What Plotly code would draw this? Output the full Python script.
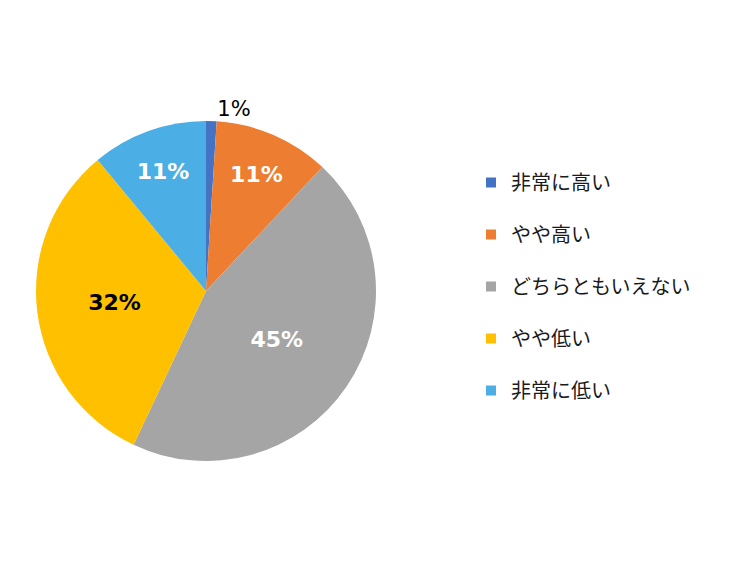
import plotly.graph_objects as go

labels = ["非常に高い", "やや高い", "どちらともいえない", "やや低い", "非常に低い"]
values = [1, 11, 45, 32, 11]
colors = ["#4472C4", "#ED7D31", "#A5A5A5", "#FFC000", "#4BAEE4"]
text_colors = ["#000000", "#FFFFFF", "#FFFFFF", "#000000", "#FFFFFF"]
text_pos = ["outside", "inside", "inside", "inside", "inside"]
bold = [False, True, True, True, True]

texts = [(f"<b>{v}%</b>" if b else f"{v}%") for v, b in zip(values, bold)]

fig = go.Figure()
fig.add_trace(go.Pie(
    labels=labels, values=values, sort=False, direction="clockwise", rotation=0,
    marker=dict(colors=colors, line=dict(width=0)),
    text=texts, texttemplate="%{text}", textposition=text_pos,
    insidetextorientation="horizontal",
    textfont=dict(family="DejaVu Sans", size=22, color=text_colors),
    outsidetextfont=dict(family="DejaVu Sans", size=21, color="#000000"),
    domain=dict(x=[36/750, 376/750], y=[1-461/563, 1-121/563]),
    showlegend=False, hoverinfo="label+percent",
))

for i, (lab, col) in enumerate(zip(labels, colors)):
    fig.add_trace(go.Scatter(
        x=[None], y=[None], mode="markers", name=lab, legendgroup=f"g{i}",
        marker=dict(symbol="square", size=10, color=col),
    ))

fig.update_layout(
    width=750, height=563, margin=dict(l=0, r=0, t=0, b=0),
    paper_bgcolor="white", plot_bgcolor="white",
    xaxis=dict(visible=False), yaxis=dict(visible=False),
    legend=dict(x=0.628, y=1-163/563, xanchor="left", yanchor="top",
                traceorder="grouped", tracegroupgap=23,
                font=dict(family="Noto Sans CJK JP", size=20, color="#1a1a1a"),
                itemwidth=30),
)

fig.write_html("out.html")
